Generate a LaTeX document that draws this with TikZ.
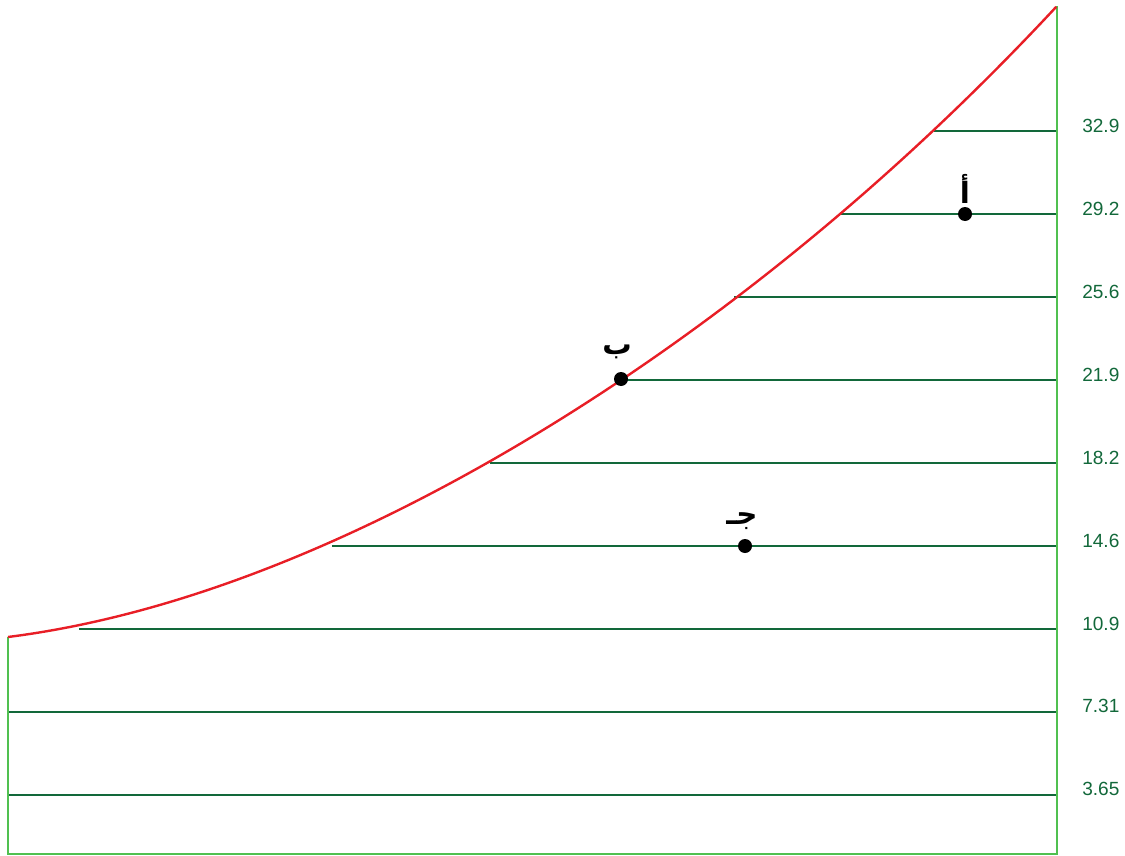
\documentclass[tikz,border=0pt]{standalone}
\usepackage{fontspec}
\setmainfont{Liberation Sans}
\newfontfamily\arabicfont[Script=Arabic,BoldFont={DejaVu Sans Bold}]{DejaVu Sans}
\TeXXeTstate=1
\definecolor{rim}{RGB}{80,192,80}
\definecolor{level}{RGB}{18,104,58}
\definecolor{curvered}{RGB}{232,30,38}
\tikzset{
  rimline/.style={draw=rim,line width=2.2pt},
  levelline/.style={draw=level,line width=2.2pt},
  depth/.style={anchor=west,text=level,font=\fontsize{14.3}{16}\selectfont,inner sep=0pt},
  dot/.style={shape=circle,fill=black,minimum size=10.5pt,inner sep=0pt},
  letter/.style={font=\arabicfont\bfseries\fontsize{22}{25}\selectfont,inner sep=0pt}
}
\begin{document}
\begin{tikzpicture}[x=0.75pt,y=-0.75pt]
\useasboundingbox (0,0) rectangle (1125,856);
\coordinate (top) at (1057,6);
\coordinate (edge) at (8,637);
\coordinate (bl) at (8,854);
\coordinate (br) at (1057,854);
\coordinate (s1) at (8,795);
\coordinate (s2) at (8,712);
\coordinate (s3) at (79,629);
\coordinate (s4) at (332,546);
\coordinate (s5) at (490,463);
\coordinate (s6) at (621,380);
\coordinate (s7) at (734,297);
\coordinate (s8) at (840,214);
\coordinate (s9) at (934,131);
\coordinate (e1) at (1057,795);
\coordinate (e2) at (1057,712);
\coordinate (e3) at (1057,629);
\coordinate (e4) at (1057,546);
\coordinate (e5) at (1057,463);
\coordinate (e6) at (1057,380);
\coordinate (e7) at (1057,297);
\coordinate (e8) at (1057,214);
\coordinate (e9) at (1057,131);
\draw[levelline] (s1) -- (e1);
\draw[levelline] (s2) -- (e2);
\draw[levelline] (s3) -- (e3);
\draw[levelline] (s4) -- (e4);
\draw[levelline] (s5) -- (e5);
\draw[levelline] (s6) -- (e6);
\draw[levelline] (s7) -- (e7);
\draw[levelline] (s8) -- (e8);
\draw[levelline] (s9) -- (e9);
\draw[rimline] (edge) -- (bl) -- (br) -- (top);
\draw[curvered,line width=1.8pt] plot[domain=0:1,samples=80,smooth]
  ({8+1049*\x},{637-\x*(132.8+\x*(651.6+\x*(-305.6+152.2*\x)))});
\node[depth] (v1) at (1082,789) {3.65};
\node[depth] (v2) at (1082,706) {7.31};
\node[depth] (v3) at (1082,624) {10.9};
\node[depth] (v4) at (1082,541) {14.6};
\node[depth] (v5) at (1082,458) {18.2};
\node[depth] (v6) at (1082,375) {21.9};
\node[depth] (v7) at (1082,292) {25.6};
\node[depth] (v8) at (1082,209) {29.2};
\node[depth] (v9) at (1082,126) {32.9};
\node[dot] (A) at (965,214) {};
\node[dot] (B) at (621,379) {};
\node[dot] (C) at (745,546) {};
\node[letter] (la) at (965,189) {\beginR أ\endR};
\node[letter] (lb) at (617,352) {\beginR ب\endR};
\node[letter] (lc) at (742,521) {\beginR جـ\endR};
\end{tikzpicture}
\end{document}
